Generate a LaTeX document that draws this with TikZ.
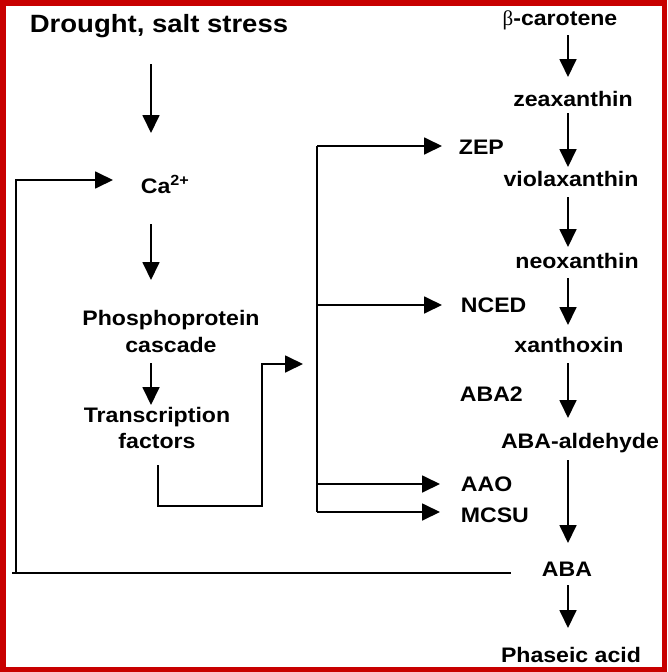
\documentclass[tikz,border=0pt]{standalone}
\usepackage{fontspec}
\usetikzlibrary{arrows.meta,calc}
\newfontfamily\labfont{Liberation Sans}[FakeStretch=1.1]
\newfontfamily\betafont{Liberation Serif}
\definecolor{framered}{RGB}{200,0,0}
\begin{document}
\begin{tikzpicture}[x=1pt,y=-1pt,line width=1.8pt,
  lbl/.style={font=\labfont\bfseries\fontsize{21}{25}\selectfont,inner sep=0pt,anchor=base},
  head/.style={font=\labfont\bfseries\fontsize{25}{30}\selectfont,inner sep=0pt,anchor=base},
  arr/.style={-{Triangle[width=17pt,length=18pt]}}]
\useasboundingbox (0,0) rectangle (667,672);
\fill[framered] (0,0) rectangle (667,672);
\fill[white] (6,6) rectangle (662,667);
% left column
\node[head] (drought) at (159,32) {Drought, salt stress};
\node[lbl,anchor=base west] (ca) at (140,193) {Ca\textsuperscript{2+}};
\node[lbl] (phos1) at (171,325) {Phosphoprotein};
\node[lbl] (phos2) at (171,352) {cascade};
\node[lbl] (trans1) at (157,422) {Transcription};
\node[lbl] (trans2) at (157,448) {factors};
% enzymes
\node[lbl,anchor=base west] (zep) at (458,154) {ZEP};
\node[lbl,anchor=base west] (nced) at (460,312) {NCED};
\node[lbl,anchor=base west] (aba2) at (459,401) {ABA2};
\node[lbl,anchor=base west] (aao) at (460,491) {AAO};
\node[lbl,anchor=base west] (mcsu) at (460,522) {MCSU};
% chain
\node[lbl] (bcar) at (560,25) {{\betafont\mdseries β}-carotene};
\node[lbl] (zea) at (573,106) {zeaxanthin};
\node[lbl] (viola) at (571,186) {violaxanthin};
\node[lbl] (neo) at (577,268) {neoxanthin};
\node[lbl] (xan) at (569,352) {xanthoxin};
\node[lbl] (abaald) at (580,448) {ABA-aldehyde};
\node[lbl] (aba) at (567,576) {ABA};
\node[lbl] (pha) at (571,662) {Phaseic acid};
% helper coordinates
\coordinate (lx) at (151,0);
\coordinate (ax) at (568,0);
\coordinate (hubtop) at (317,146);
\coordinate (hubnced) at (317,305);
\coordinate (hubaao) at (317,484);
\coordinate (hubbot) at (317,512);
\coordinate (fbl) at (16,573);
\coordinate (fbtop) at (16,180);
\coordinate (botleft) at (12,573);
% left arrows
\draw[arr] ($(drought.base -| lx)+(0,32)$) -- ($(ca.base -| lx)+(0,-60)$);
\draw[arr] ($(ca.base -| lx)+(0,31)$) -- ($(phos1.base -| lx)+(0,-45)$);
\draw[arr] ($(phos2.base -| lx)+(0,11)$) -- ($(trans1.base -| lx)+(0,-17)$);
% bracket from transcription factors
\draw[arr] ($(trans2.base)+(1,17)$) -- (158,506) -- (262,506) -- (262,364) -- (303,364);
% hub
\draw (hubtop) -- (hubbot);
\draw[arr] (hubtop) -- ($(zep.base west)+(-16,-8)$);
\draw[arr] (hubnced) -- ($(nced.base west)+(-18,-7)$);
\draw[arr] (hubaao) -- ($(aao.base west)+(-20,-7)$);
\draw[arr] (hubbot) -- ($(mcsu.base west)+(-20,-10)$);
% feedback
\draw (botleft) -- ($(aba.base west)+(-30,-3)$);
\draw[arr] (fbl) -- (fbtop) -- ($(ca.base west)+(-27,-13)$);
% chain arrows
\draw[arr] ($(bcar.base -| ax)+(0,10)$) -- ($(zea.base -| ax)+(0,-29)$);
\draw[arr] ($(zea.base -| ax)+(0,7)$) -- ($(viola.base -| ax)+(0,-19)$);
\draw[arr] ($(viola.base -| ax)+(0,11)$) -- ($(neo.base -| ax)+(0,-21)$);
\draw[arr] ($(neo.base -| ax)+(0,10)$) -- ($(xan.base -| ax)+(0,-27)$);
\draw[arr] ($(xan.base -| ax)+(0,11)$) -- ($(abaald.base -| ax)+(0,-30)$);
\draw[arr] ($(abaald.base -| ax)+(0,12)$) -- ($(aba.base -| ax)+(0,-33)$);
\draw[arr] ($(aba.base -| ax)+(0,9)$) -- ($(pha.base -| ax)+(0,-34)$);
\end{tikzpicture}
\end{document}
